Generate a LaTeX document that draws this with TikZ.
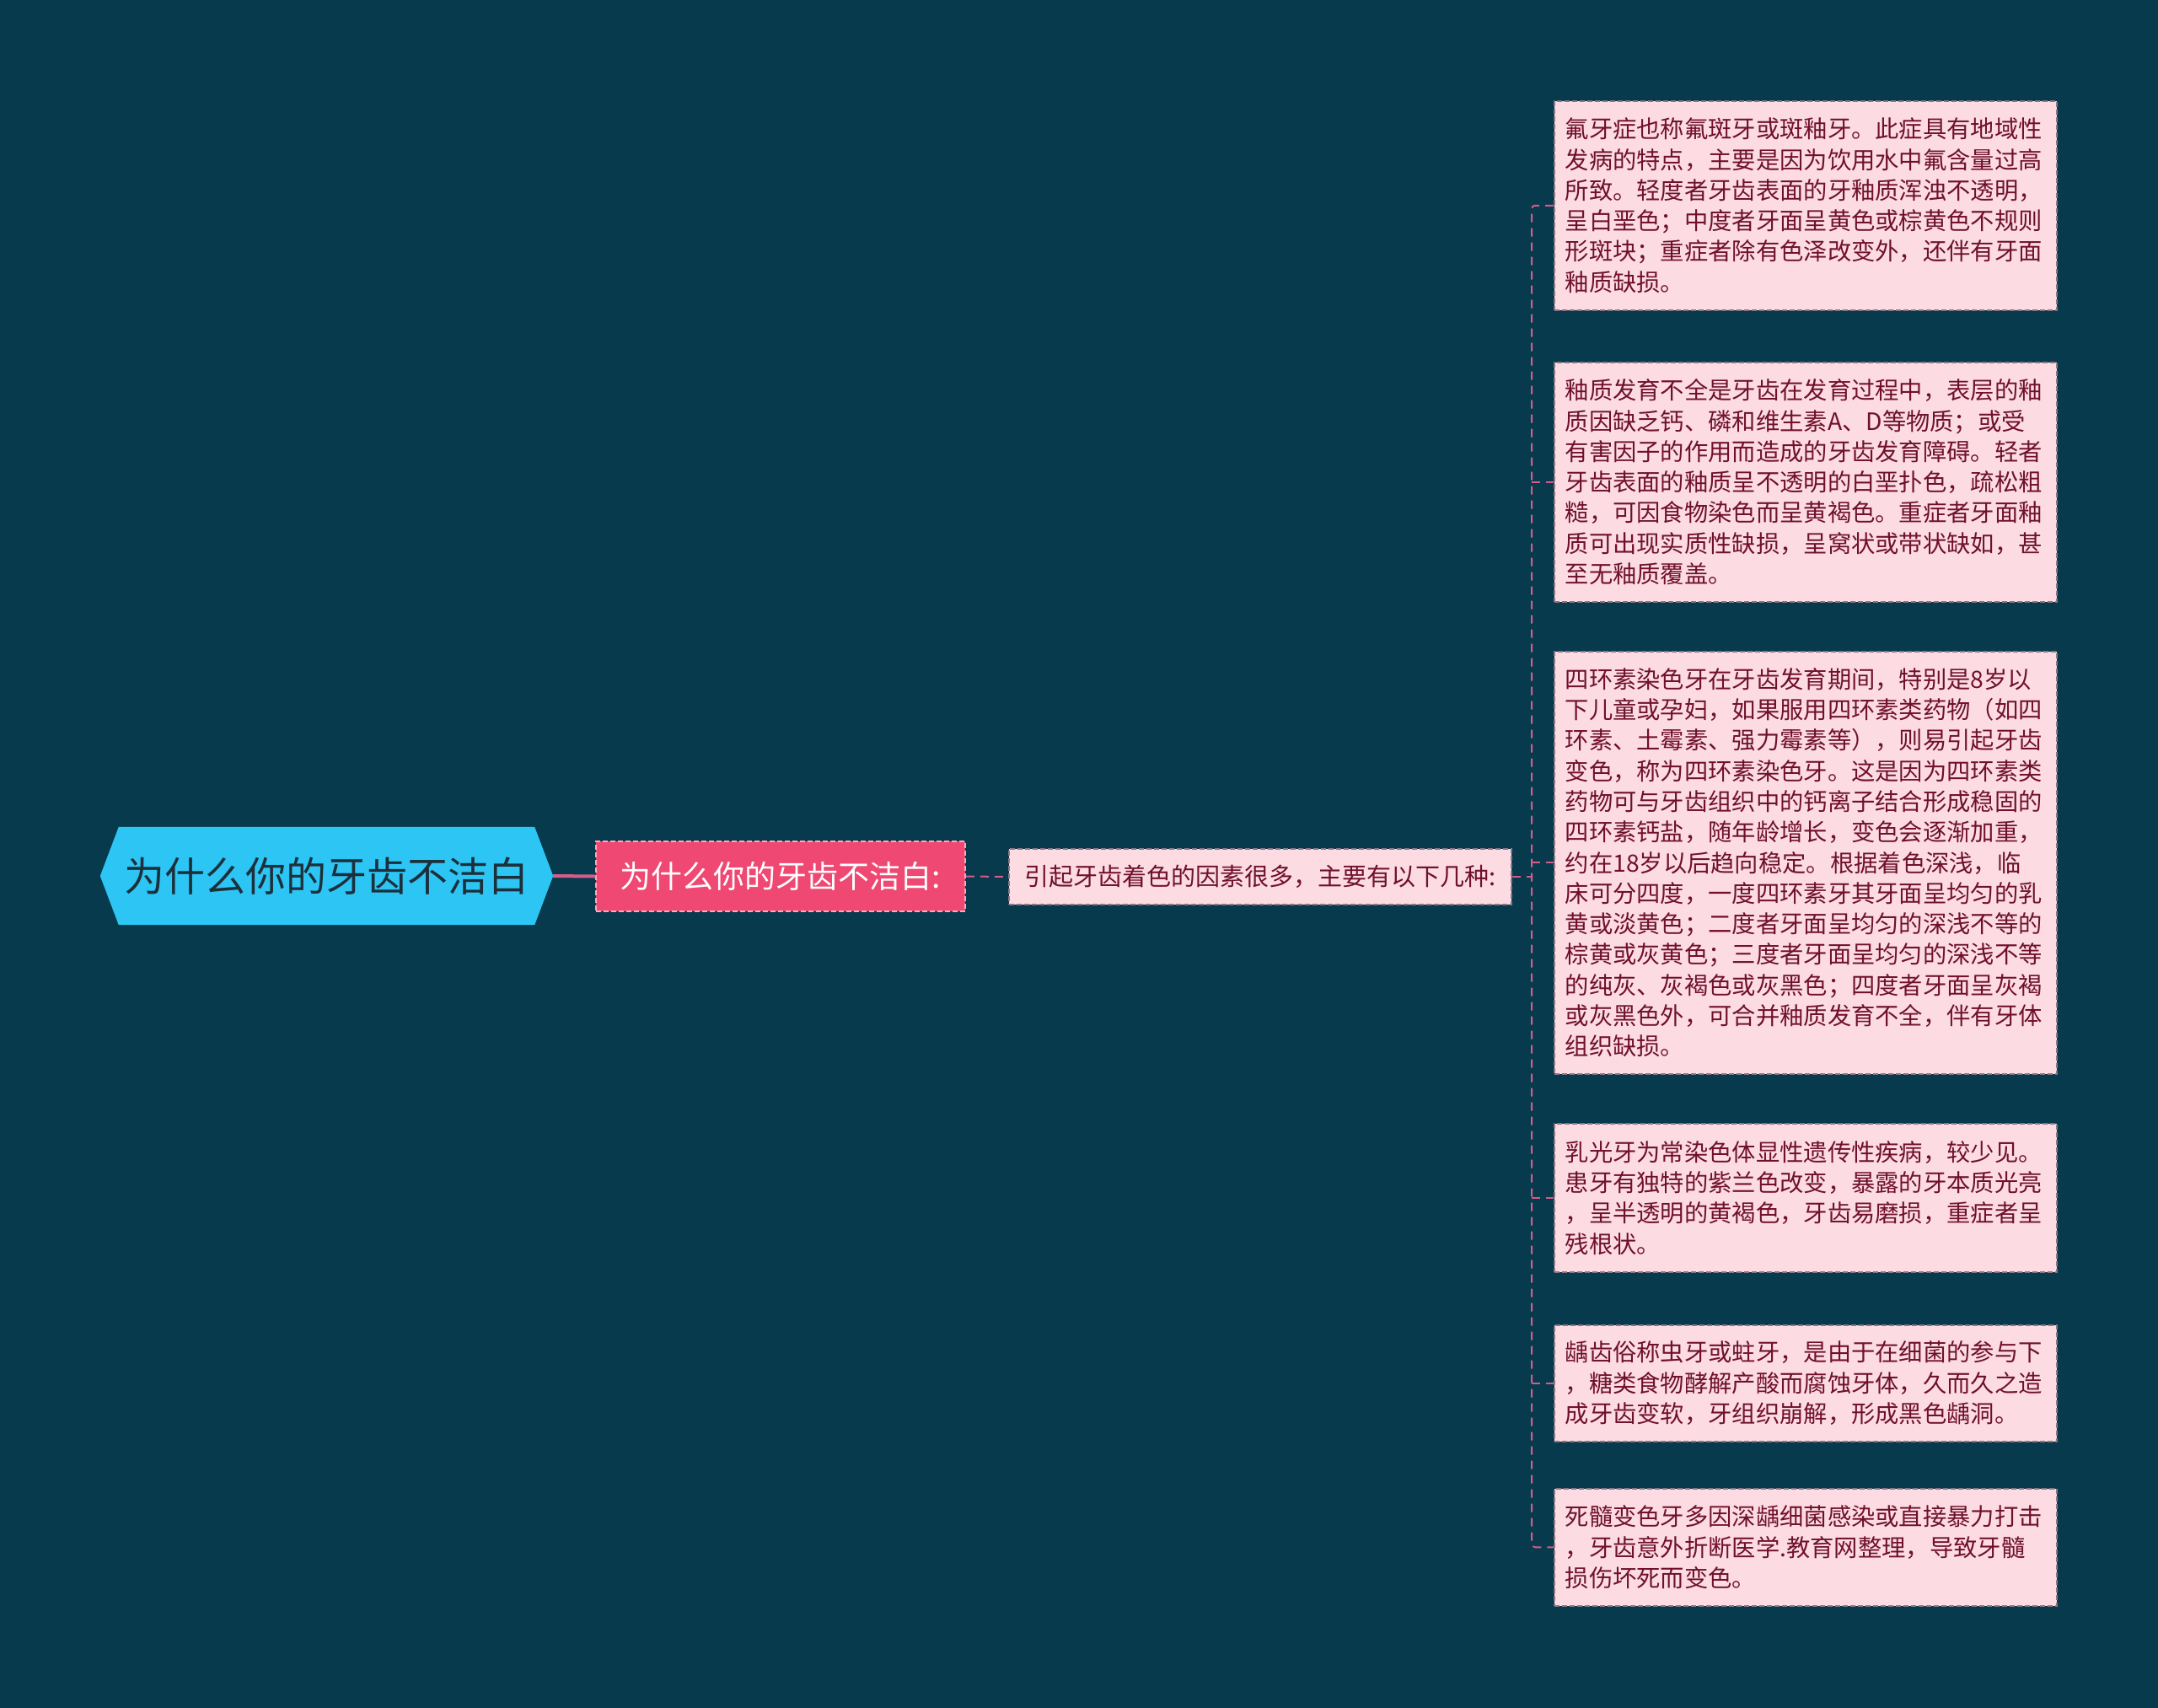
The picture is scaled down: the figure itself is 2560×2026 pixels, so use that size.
\documentclass[tikz,border=0pt]{standalone}
\usepackage{fontspec}
\setmainfont{Noto Sans CJK SC}
\usetikzlibrary{backgrounds}
\definecolor{bg}{RGB}{7,58,77}
\definecolor{rootfill}{RGB}{45,197,244}
\definecolor{roottext}{RGB}{28,48,60}
\definecolor{pinkfill}{RGB}{239,72,114}
\definecolor{pinkborder}{RGB}{250,170,190}
\definecolor{boxfill}{RGB}{252,220,226}
\definecolor{boxborder}{RGB}{140,118,130}
\definecolor{boxtext}{RGB}{112,16,45}
\definecolor{conn}{RGB}{214,92,138}
\begin{document}
\begin{tikzpicture}[x=1pt,y=-1pt,
  rootnode/.style={minimum width=537pt, minimum height=116pt, inner sep=0pt, text=roottext, font=\fontsize{48}{56}\selectfont},
  pinknode/.style={fill=pinkfill, draw=pinkborder, line width=1.5pt, dash pattern=on 6pt off 3pt, minimum width=438pt, minimum height=83pt, inner sep=0pt, text=white, font=\fontsize{37}{44}\selectfont},
  midnode/.style={fill=boxfill, draw=boxborder, line width=1.5pt, dash pattern=on 6pt off 3pt, minimum width=596pt, minimum height=66pt, inner sep=0pt, text=boxtext, font=\fontsize{29}{34}\selectfont},
  lbox/.style={draw=boxborder, line width=1.5pt, dash pattern=on 6pt off 3pt, fill=boxfill, text=boxtext, font=\fontsize{28.3}{36.3}\selectfont, text width=570pt, align=left, inner xsep=13pt, inner ysep=0pt, anchor=north west},
  thickconn/.style={draw=conn, line width=4pt},
  dconn/.style={draw=conn, line width=2pt, dash pattern=on 10pt off 7pt}
]
\begin{scope}[on background layer]
\fill[bg] (0,0) rectangle (2560,2026);
\end{scope}

\node[rootnode] (root) at (387.5,1039) {为什么你的牙齿不洁白};
\begin{scope}[on background layer]
\fill[rootfill] (root.west) -- ([xshift=22pt]root.north west) -- ([xshift=-22pt]root.north east) -- (root.east) -- ([xshift=-22pt]root.south east) -- ([xshift=22pt]root.south west) -- cycle;
\end{scope}

\node[pinknode] (p) at (926,1039.5) {为什么你的牙齿不洁白:};
\node[midnode] (m) at (1495,1040) {引起牙齿着色的因素很多，主要有以下几种:};

\node[lbox, minimum height=248pt] (c1) at (1843,119) {氟牙症也称氟斑牙或斑釉牙。此症具有地域性\\发病的特点，主要是因为饮用水中氟含量过高\\所致。轻度者牙齿表面的牙釉质浑浊不透明，\\呈白垩色；中度者牙面呈黄色或棕黄色不规则\\形斑块；重症者除有色泽改变外，还伴有牙面\\釉质缺损。};
\node[lbox, minimum height=284pt] (c2) at (1843,429) {釉质发育不全是牙齿在发育过程中，表层的釉\\质因缺乏钙、磷和维生素A、D等物质；或受\\有害因子的作用而造成的牙齿发育障碍。轻者\\牙齿表面的釉质呈不透明的白垩扑色，疏松粗\\糙，可因食物染色而呈黄褐色。重症者牙面釉\\质可出现实质性缺损，呈窝状或带状缺如，甚\\至无釉质覆盖。};
\node[lbox, minimum height=501pt] (c3) at (1843,772) {四环素染色牙在牙齿发育期间，特别是8岁以\\下儿童或孕妇，如果服用四环素类药物（如四\\环素、土霉素、强力霉素等），则易引起牙齿\\变色，称为四环素染色牙。这是因为四环素类\\药物可与牙齿组织中的钙离子结合形成稳固的\\四环素钙盐，随年龄增长，变色会逐渐加重，\\约在18岁以后趋向稳定。根据着色深浅，临\\床可分四度，一度四环素牙其牙面呈均匀的乳\\黄或淡黄色；二度者牙面呈均匀的深浅不等的\\棕黄或灰黄色；三度者牙面呈均匀的深浅不等\\的纯灰、灰褐色或灰黑色；四度者牙面呈灰褐\\或灰黑色外，可合并釉质发育不全，伴有牙体\\组织缺损。};
\node[lbox, minimum height=176pt] (c4) at (1843,1332) {乳光牙为常染色体显性遗传性疾病，较少见。\\患牙有独特的紫兰色改变，暴露的牙本质光亮\\，呈半透明的黄褐色，牙齿易磨损，重症者呈\\残根状。};
\node[lbox, minimum height=138pt] (c5) at (1843,1571) {龋齿俗称虫牙或蛀牙，是由于在细菌的参与下\\，糖类食物酵解产酸而腐蚀牙体，久而久之造\\成牙齿变软，牙组织崩解，形成黑色龋洞。};
\node[lbox, minimum height=139pt] (c6) at (1843,1765) {死髓变色牙多因深龋细菌感染或直接暴力打击\\，牙齿意外折断医学.教育网整理，导致牙髓\\损伤坏死而变色。};

\coordinate (bus) at (1817,1040);

\draw[thickconn] (root.east) -- (p.west);
\draw[dconn] (p.east) -- (m.west);
\draw[dconn] (m.east) -- (bus);
\draw[dconn, rounded corners=4pt] (c1.west) -- (c1.west -| bus) -- (c6.west -| bus) -- (c6.west);
\draw[dconn] (c2.west -| bus) -- (c2.west);
\draw[dconn] (c3.west -| bus) -- (c3.west);
\draw[dconn] (c4.west -| bus) -- (c4.west);
\draw[dconn] (c5.west -| bus) -- (c5.west);
\end{tikzpicture}
\end{document}
